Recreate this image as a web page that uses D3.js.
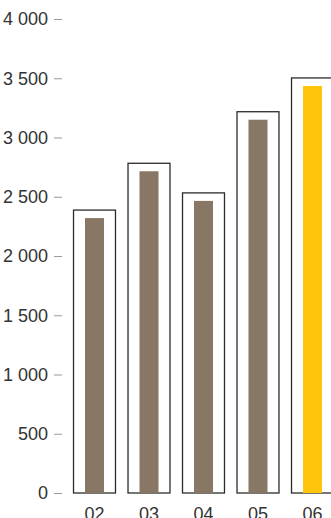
<!DOCTYPE html>
<html>
<head>
<meta charset="utf-8">
<script src="https://cdn.jsdelivr.net/npm/d3@7"></script>
<style>
  body { margin: 0; background: #fff; }
  .chart text { font-family: "Liberation Sans", Arial, Helvetica, sans-serif; fill: #333; }
</style>
</head>
<body>
<div class="chart"></div>
<script>
// values
var years = ["02", "03", "04", "05", "06"];
var values = [2320, 2715, 2465, 3150, 3435];
var yTicks = [0, 500, 1000, 1500, 2000, 2500, 3000, 3500, 4000];

var width = 331, height = 518,
  framePad = 8,
  barColor = "#887764",
  highlight = "#ffc40c";

var svg = d3.select(".chart").append("svg")
  .attr("width", width)
  .attr("height", height);

var x = d3.scaleBand()
  .domain(years)
  .range([67.25, 339.75])
  .paddingInner(0.23)
  .paddingOuter(0.115);

var y = d3.scaleLinear()
  .domain([0, 4000])
  .range([493, 19]);

// thousands separated by a space
var fmt = function(d) { return d3.format(",")(d).replace(",", " "); };

var yAxis = svg.append("g")
  .attr("transform", "translate(62,0)")
  .call(d3.axisLeft(y).tickValues(yTicks).tickSize(8).tickPadding(6).tickFormat(fmt));
yAxis.select(".domain").remove();
yAxis.selectAll("line").attr("stroke", "#999");
yAxis.selectAll("text").style("font-size", "18px");

// frames
svg.selectAll(".frame")
  .data(values)
  .enter().append("rect")
    .attr("class", "frame")
    .attr("x", function(d, i) { return x(years[i]); })
    .attr("y", function(d) { return y(d) - framePad; })
    .attr("width", x.bandwidth())
    .attr("height", function(d) { return y(0) - y(d) + framePad; })
    .attr("fill", "#fff")
    .attr("stroke", "#2b2b2b")
    .attr("stroke-width", 1.3);

var barW = 19;
svg.selectAll(".bar")
  .data(values)
  .enter().append("rect")
    .attr("class", "bar")
    .attr("x", function(d, i) { return x(years[i]) + (x.bandwidth() - barW) / 2; })
    .attr("y", function(d) { return y(d); })
    .attr("width", barW)
    .attr("height", function(d) { return y(0) - y(d); })
    .attr("fill", function(d, i) { return i === years.length - 1 ? highlight : barColor; });

var xAxis = svg.append("g")
  .attr("transform", "translate(0," + y(0) + ")")
  .call(d3.axisBottom(x).tickSize(0).tickPadding(14));
xAxis.select(".domain").remove();
xAxis.selectAll("text").style("font-size", "18px");
</script>
</body>
</html>
